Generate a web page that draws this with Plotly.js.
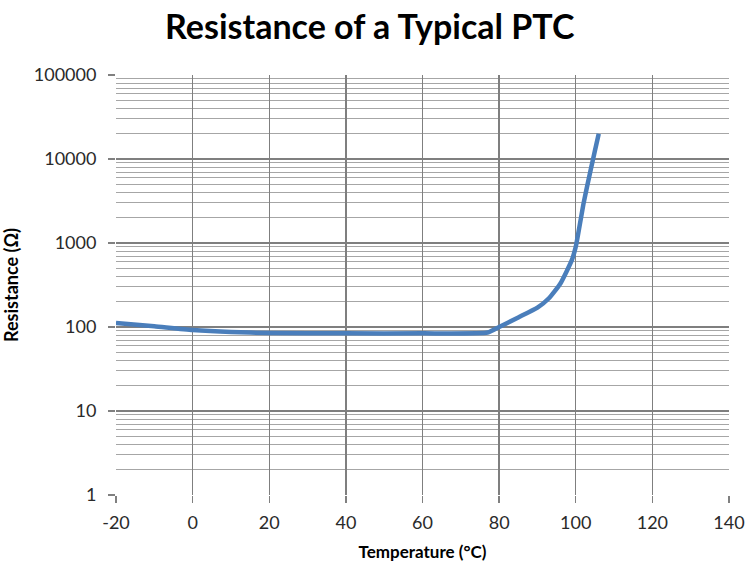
<!DOCTYPE html>
<html>
<head>
<meta charset="utf-8">
<script src="https://cdn.plot.ly/plotly-3.0.1.min.js"></script>
<style>
  html, body { margin: 0; padding: 0; background: #fff; }
  #chart { width: 750px; height: 568px; }
</style>
</head>
<body>
<div id="chart"></div>
<script>
// PTC thermistor resistance vs temperature
const temperature = [-20, -10, 0, 10, 20, 40, 60, 77, 80, 85, 90, 93, 96, 99, 100, 101, 102, 103, 104, 105, 106];
const resistance  = [112, 102, 92, 87, 85, 84, 84, 86, 100, 130, 170, 220, 330, 630, 900, 1600, 2900, 4800, 7800, 12500, 20000];

const xTicks = [-20, 0, 20, 40, 60, 80, 100, 120, 140];
const xTickText = ['-20', '0', '20', '40', '60', '80', '100', '120', '140'];
const yTickVals = [1, 10, 100, 1000, 10000, 100000];
const yTickText = ['1', '10', '100', '1000', '10000', '100000'];

const font = 'Lato, "Open Sans", sans-serif';

const trace = {
  x: temperature,
  y: resistance,
  type: 'scatter',
  mode: 'lines',
  line: { color: '#4a7ebb', width: 4.5, shape: 'spline', smoothing: 0.5 },
  hoverinfo: 'x+y'
};

const layout = {
  width: 750,
  height: 568,
  margin: { l: 116, r: 21, t: 75, b: 73 },
  paper_bgcolor: '#fff',
  plot_bgcolor: '#fff',
  showlegend: false,
  title: {
    text: '<b>Resistance of a Typical PTC</b>',
    font: { family: font, size: 34, color: '#000' },
    x: 0.493, xanchor: 'center', y: 0.952, yanchor: 'middle'
  },
  xaxis: {
    range: [-20, 140],
    tickvals: xTicks,
    ticktext: xTickText,
    ticks: 'outside', ticklen: 7, tickcolor: '#808080', tickwidth: 1.3,
    ticklabelstandoff: 4,
    showgrid: true, gridcolor: '#7f7f7f', gridwidth: 1.3,
    zeroline: false, showline: false,
    tickfont: { family: font, size: 18, color: '#2a2a2a' },
    title: { text: '<b>Temperature (°C)</b>', font: { family: font, size: 17, color: '#000' }, standoff: 14 }
  },
  yaxis: {
    type: 'log',
    range: [0, 5],
    tickvals: yTickVals,
    ticktext: yTickText,
    ticks: 'outside', ticklen: 7, tickcolor: '#808080', tickwidth: 1.3,
    ticklabelstandoff: 8,
    showgrid: true, gridcolor: '#7f7f7f', gridwidth: 1.3,
    zeroline: false, showline: false,
    tickfont: { family: font, size: 18, color: '#2a2a2a' },
    minor: { dtick: 'D1', showgrid: true, gridcolor: '#a6a6a6', gridwidth: 1, ticks: '' },
    title: { text: '<b>Resistance (Ω)</b>', font: { family: font, size: 18, color: '#000' }, standoff: 10 }
  }
};

Plotly.newPlot('chart', [trace], layout, { displayModeBar: false, staticPlot: true });
</script>
</body>
</html>
